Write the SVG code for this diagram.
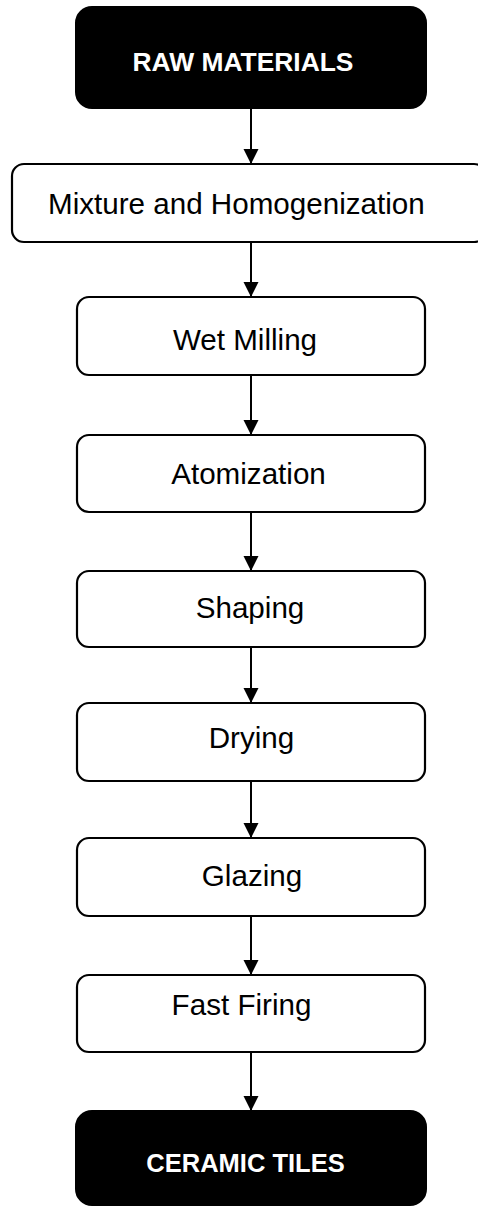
<svg xmlns="http://www.w3.org/2000/svg" width="478" height="1207" viewBox="0 0 478 1207">
<style>
.box{fill:#fff;stroke:#000;stroke-width:2.2}
.dark{fill:#000;stroke:#000;stroke-width:2}
.t{font-family:"Liberation Sans",Arial,sans-serif;font-size:29.6px;fill:#000;text-anchor:middle}
.b{font-family:"Liberation Sans",Arial,sans-serif;font-size:25.5px;font-weight:bold;fill:#fff;text-anchor:middle}
.c{stroke:#000;stroke-width:2;fill:none}
</style>
<defs>
<marker id="ah" markerUnits="userSpaceOnUse" markerWidth="16" markerHeight="16" viewBox="0 0 16 16" refX="15" refY="8" orient="auto">
<path d="M0,0.5 L15,8 L0,15.5 Z" fill="#000"/>
</marker>
</defs>
<rect width="478" height="1207" fill="#fff"/>
<g id="connectors">
<line class="c" x1="251" y1="108" x2="251" y2="164" marker-end="url(#ah)"/>
<line class="c" x1="251" y1="242" x2="251" y2="297" marker-end="url(#ah)"/>
<line class="c" x1="251" y1="375" x2="251" y2="435" marker-end="url(#ah)"/>
<line class="c" x1="251" y1="512" x2="251" y2="571" marker-end="url(#ah)"/>
<line class="c" x1="251" y1="647" x2="251" y2="703" marker-end="url(#ah)"/>
<line class="c" x1="251" y1="781" x2="251" y2="838" marker-end="url(#ah)"/>
<line class="c" x1="251" y1="916" x2="251" y2="975" marker-end="url(#ah)"/>
<line class="c" x1="251" y1="1052" x2="251" y2="1111" marker-end="url(#ah)"/>
</g>
<g id="raw">
<rect class="dark" x="76" y="7" width="350" height="101" rx="16"/>
<text class="b" x="243" y="71" style="font-size:26.4px">RAW MATERIALS</text>
</g>
<g id="mixture">
<rect class="box" x="12" y="164" width="474" height="78" rx="12"/>
<text class="t" x="48" y="214" style="text-anchor:start">Mixture and Homogenization</text>
</g>
<g id="wet-milling">
<rect class="box" x="77" y="297" width="348" height="78" rx="12"/>
<text class="t" x="245" y="350">Wet Milling</text>
</g>
<g id="atomization">
<rect class="box" x="77" y="435" width="348" height="77" rx="12"/>
<text class="t" x="248.5" y="484">Atomization</text>
</g>
<g id="shaping">
<rect class="box" x="77" y="571" width="348" height="76" rx="12"/>
<text class="t" x="250" y="618">Shaping</text>
</g>
<g id="drying">
<rect class="box" x="77" y="703" width="348" height="78" rx="12"/>
<text class="t" x="251.5" y="748">Drying</text>
</g>
<g id="glazing">
<rect class="box" x="77" y="838" width="348" height="78" rx="12"/>
<text class="t" x="252" y="886">Glazing</text>
</g>
<g id="fast-firing">
<rect class="box" x="77" y="975" width="348" height="77" rx="12"/>
<text class="t" x="241.5" y="1015">Fast Firing</text>
</g>
<g id="ceramic-tiles">
<rect class="dark" x="76" y="1111" width="350" height="94" rx="16"/>
<text class="b" x="245.5" y="1172">CERAMIC TILES</text>
</g>
</svg>
